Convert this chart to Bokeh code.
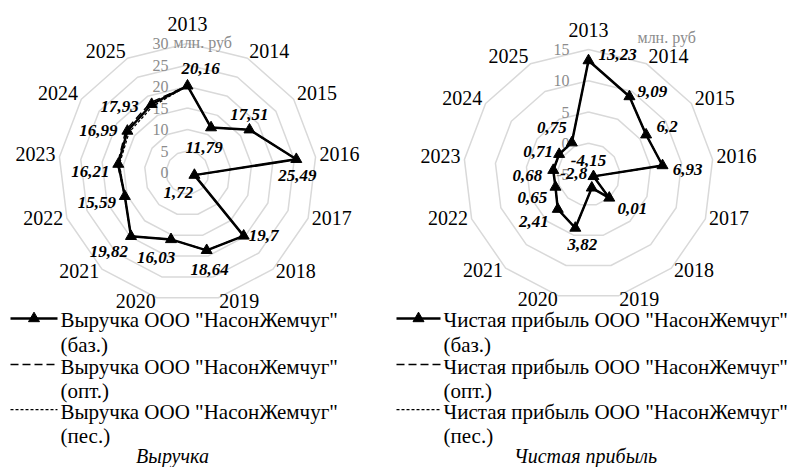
import numpy as np
from bokeh.plotting import figure
from bokeh.models import Range1d
from bokeh.embed import file_html
from bokeh.resources import INLINE
from bokeh.core.properties import value

# ---------------- data ----------------
years = [str(y) for y in range(2013, 2026)]
revenue_base = [20.16, 11.79, 17.51, 25.49, 1.72, 19.7, 18.64, 16.03, 19.82, 15.59, 16.21, 16.99, 17.93]
revenue_opt = [20.16, 11.79, 17.51, 25.49, 1.72, 19.7, 18.64, 16.03, 19.82, 15.59, 16.40, 17.40, 18.40]
revenue_pes = [20.16, 11.79, 17.51, 25.49, 1.72, 19.7, 18.64, 16.03, 19.82, 15.59, 15.95, 16.50, 17.40]
profit_base = [13.23, 9.09, 6.2, 6.93, -4.15, 0.01, -2.8, 3.82, 2.41, 0.65, 0.68, 0.71, 0.75]
profit_opt = [13.23, 9.09, 6.2, 6.93, -4.15, 0.01, -2.8, 3.82, 2.41, 0.65, 0.68, 0.71, 0.75]
profit_pes = [13.23, 9.09, 6.2, 6.93, -4.15, 0.01, -2.8, 3.82, 2.41, 0.65, 0.68, 0.71, 0.75]
revenue_ticks = [0, 5, 10, 15, 20, 25, 30]
profit_ticks = [-5, 0, 5, 10, 15]
unit_label = "млн. руб"
rev_series = ['Выручка ООО "НасонЖемчуг"', "(баз.)", "(опт.)", "(пес.)"]
prof_series = ['Чистая прибыль ООО "НасонЖемчуг"', "(баз.)", "(опт.)", "(пес.)"]
rev_title = "Выручка"
prof_title = "Чистая прибыль"

# ---------------- layout (label offsets in px) ----------------
rev_lbl_off = [(13, -17), (-7, 20), (0, -15), (1, 16), (-16, 17), (20, 0), (3, 19),
               (-15, 18), (-22, 15), (-28, 6), (-28, 7), (-29, 0), (-32, 2)]
prof_lbl_off = [(29, -6), (23, -5), (21, -8), (25, 4), (-5, -16), (23, 11), (-18, -14),
                (7, 16), (-24, 12), (-23, 10), (-26, 5), (-21, -3), (-20, -15)]

FONT = value("Liberation Serif")

p = figure(width=795, height=467, x_range=Range1d(0, 795), y_range=Range1d(467, 0),
           output_backend="svg", toolbar_location=None, min_border=0)
p.min_border_left = p.min_border_right = p.min_border_top = p.min_border_bottom = 0
p.axis.visible = False
p.grid.visible = False
p.outline_line_color = None


def fmt(v):
    return f"{v:g}".replace(".", ",")


def radar(cx, cy, R, vmin, vmax, ticks, base, opt, pes, offs, unit_xy):
    n = len(years)
    th = np.arange(n) * 2 * np.pi / n
    s, c = np.sin(th), np.cos(th)
    k = R / (vmax - vmin)
    # rings
    for t in ticks:
        if t == vmin:
            continue
        r = (t - vmin) * k
        xs = list(cx + r * s) + [cx + r * s[0]]
        ys = list(cy - r * c) + [cy - r * c[0]]
        p.line(xs, ys, line_color="#d9d9d9", line_width=1.5)
    # tick labels
    p.text(x=[cx - 19] * len(ticks), y=[cy - (t - vmin) * k for t in ticks],
           text=[str(t) for t in ticks], text_align="right", text_baseline="middle",
           text_color="#8c8c8c", text_font=FONT, text_font_size="16px")
    p.text(x=[unit_xy[0]], y=[unit_xy[1]], text=[unit_label], text_align="left",
           text_baseline="middle", text_color="#8c8c8c", text_font=FONT, text_font_size="16px")
    # category labels
    for i in range(n):
        if abs(s[i]) < 0.01:
            p.text(x=[cx], y=[cy - R - 20], text=[years[i]], text_align="center",
                   text_baseline="middle", text_font=FONT, text_font_size="20px", text_color="black")
        else:
            p.text(x=[cx + (R + 4) * s[i]], y=[cy - (R + 5.8) * c[i] - 2.6], text=[years[i]],
                   text_align="left" if s[i] > 0 else "right", text_baseline="middle",
                   text_font=FONT, text_font_size="20px", text_color="black")

    def pts(vals):
        r = (np.array(vals) - vmin) * k
        return cx + r * s, cy - r * c

    for vals, dash, lw in ((pes, "3 2", 1.25), (opt, "8 4", 1.5)):
        x, y = pts(vals)
        p.line(list(x) + [x[0]], list(y) + [y[0]], line_color="black", line_width=lw, line_dash=dash)
    x, y = pts(base)
    p.line(list(x) + [x[0]], list(y) + [y[0]], line_color="black", line_width=2.5)
    p.scatter(x, y, marker="triangle", size=11, fill_color="black", line_color="black")
    p.text(x=[x[i] + offs[i][0] for i in range(n)], y=[y[i] + offs[i][1] for i in range(n)],
           text=[fmt(v) for v in base], text_align="center", text_baseline="middle",
           text_font=FONT, text_font_size="17px", text_font_style="bold italic", text_color="black")


radar(187, 172, 129, revenue_ticks[0], revenue_ticks[-1], revenue_ticks,
      revenue_base, revenue_opt, revenue_pes, rev_lbl_off, (173, 42))
radar(588, 174, 125, profit_ticks[0], profit_ticks[-1], profit_ticks,
      profit_base, profit_opt, profit_pes, prof_lbl_off, (637, 37))


def legend(x0, x1, tx, labels, title, title_x):
    xm = (x0 + x1) / 2
    p.line([x0, x1], [318, 318], line_color="black", line_width=2.5)
    p.scatter([xm], [318], marker="triangle", size=11, fill_color="black", line_color="black")
    p.line([x0, x1], [364, 364], line_color="black", line_width=1.5, line_dash="8 4")
    p.line([x0, x1], [409, 409], line_color="black", line_width=1.25, line_dash="3 2")
    p.text(x=[tx] * 6, y=[319, 344, 366, 390, 411, 435],
           text=[labels[0], labels[1], labels[0], labels[2], labels[0], labels[3]],
           text_align="left", text_baseline="middle", text_font=FONT, text_font_size="21px",
           text_color="black")
    p.text(x=[title_x], y=[455], text=[title], text_align="center", text_baseline="middle",
           text_font=FONT, text_font_size="20px", text_font_style="italic", text_color="black")


legend(10, 57, 60, rev_series, rev_title, 172)
legend(396, 440, 443, prof_series, prof_title, 585)

open("out.html", "w").write(file_html(p, INLINE))
